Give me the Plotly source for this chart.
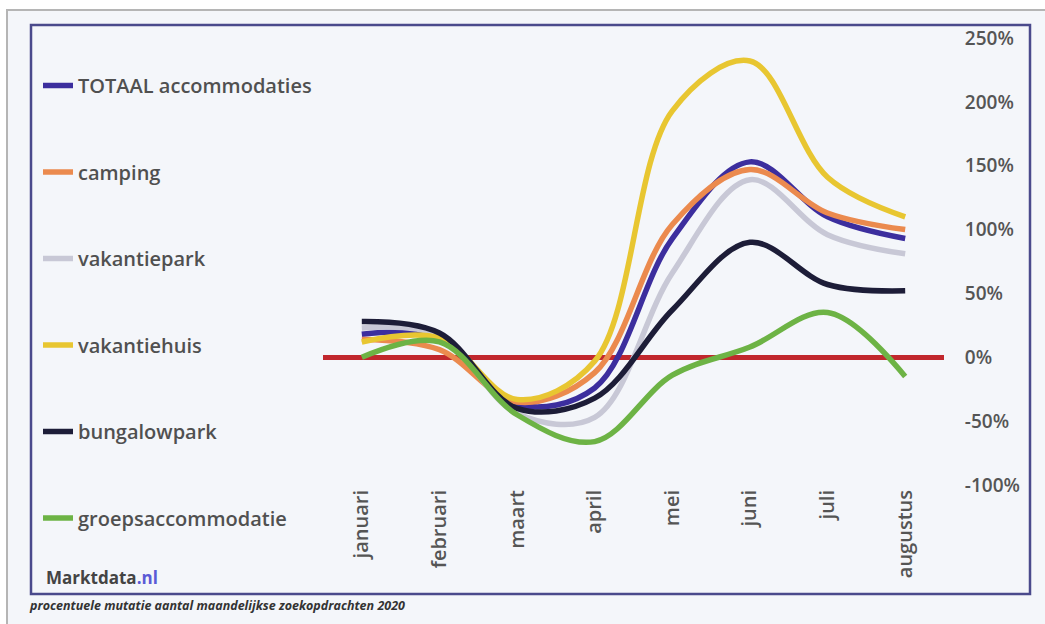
import plotly.graph_objects as go

# Maanden (categorie-as)
maanden = ["januari", "februari", "maart", "april", "mei", "juni", "juli", "augustus"]

# Procentuele mutatie per maand, per type accommodatie
totaal = [18, 15, -37, -24, 93, 153, 110, 93]
camping = [14, 6, -35, -12, 104, 147, 113, 100]
vakantiepark = [23, 17, -44, -47, 66, 139, 96, 81]
vakantiehuis = [12, 15, -33, -3, 193, 232, 141, 110]
bungalowpark = [28, 19, -40, -32, 37, 90, 57, 52]
groepsaccommodatie = [0, 12, -45, -66, -14, 8, 35, -15]

y_ticks = [-100, -50, 0, 50, 100, 150, 200, 250]
y_tick_labels = ["-100%", "-50%", "0%", "50%", "100%", "150%", "200%", "250%"]

series = [
    ("TOTAAL accommodaties", totaal, "#3c2e9e"),
    ("camping", camping, "#eb8a4e"),
    ("vakantiepark", vakantiepark, "#c8c8d6"),
    ("vakantiehuis", vakantiehuis, "#e8c631"),
    ("bungalowpark", bungalowpark, "#1d1d38"),
    ("groepsaccommodatie", groepsaccommodatie, "#6db345"),
]

# plot-area geometry in pixels (figure is 1045 x 624)
FIG_W, FIG_H = 1045, 624
L, R, T, B = 323, 944, 38, 485
W, H = R - L, B - T


def px(x):
    return (x - L) / W


def py(y):
    return (B - y) / H


fig = go.Figure()
for i, (name, values, color) in enumerate(series):
    fig.add_trace(go.Scatter(
        x=list(range(len(maanden))),
        y=values,
        name=name,
        mode="lines",
        line=dict(color=color, width=5.5, shape="spline", smoothing=1.0),
        legendgroup=f"g{i}",
        hoverinfo="skip",
    ))

fig.update_layout(
    width=FIG_W,
    height=FIG_H,
    margin=dict(l=L, r=FIG_W - R, t=T, b=FIG_H - B, pad=0),
    paper_bgcolor="#ffffff",
    plot_bgcolor="rgba(0,0,0,0)",
    font=dict(family="Open Sans", color="#555555"),
    showlegend=True,
    legend=dict(
        x=px(38), xanchor="left",
        y=py(66), yanchor="top",
        bgcolor="rgba(0,0,0,0)",
        font=dict(family="Open Sans", size=20, color="#505050", weight=600),
        tracegroupgap=57.5,
        itemwidth=30,
        maxheight=600,
    ),
    xaxis=dict(
        range=[-0.5, len(maanden) - 0.5],
        tickmode="array",
        tickvals=list(range(len(maanden))),
        ticktext=maanden,
        tickangle=-90,
        ticks="",
        showgrid=False,
        showline=False,
        zeroline=False,
        tickfont=dict(family="Open Sans", size=20, color="#555555", weight=600),
    ),
    yaxis=dict(
        range=[-100, 250],
        side="right",
        tickmode="array",
        tickvals=y_ticks,
        ticktext=y_tick_labels,
        ticks="outside",
        ticklen=16,
        tickcolor="rgba(0,0,0,0)",
        showgrid=False,
        showline=False,
        zeroline=True,
        zerolinecolor="#c1272d",
        zerolinewidth=4.5,
        tickfont=dict(family="Open Sans", size=19, color="#555555", weight=600),
    ),
    shapes=[
        # outer page frame
        dict(type="rect", xref="paper", yref="paper",
             x0=px(7), x1=px(1060), y0=py(10), y1=py(640),
             line=dict(color="#b5b5b5", width=2), fillcolor="#f4f6fa", layer="below"),
        # chart frame
        dict(type="rect", xref="paper", yref="paper",
             x0=px(31), x1=px(1030), y0=py(25), y1=py(594),
             line=dict(color="#4a4a8c", width=2.5), fillcolor="rgba(0,0,0,0)", layer="below"),
    ],
    annotations=[
        dict(xref="paper", yref="paper", x=px(44), y=py(577),
             xanchor="left", yanchor="middle", showarrow=False,
             text="<b>Marktdata</b><b><span style='color:#5a5ad6'>.nl</span></b>",
             font=dict(family="Open Sans", size=17, color="#444444")),
        dict(xref="paper", yref="paper", x=px(27), y=py(605),
             xanchor="left", yanchor="middle", showarrow=False,
             text="<b><i>procentuele mutatie aantal maandelijkse zoekopdrachten 2020</i></b>",
             font=dict(family="Open Sans", size=12.5, color="#333333")),
    ],
)

fig.write_html("out.html")
